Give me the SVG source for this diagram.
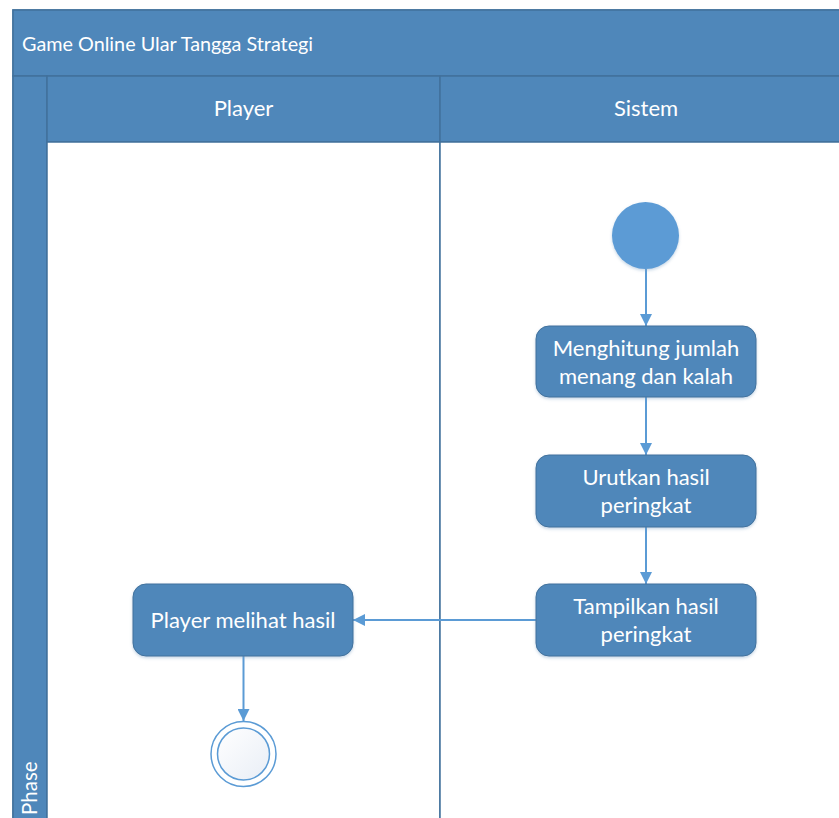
<svg xmlns="http://www.w3.org/2000/svg" width="839" height="818" viewBox="0 0 839 818">
  <style>
    .band { fill: #4f87ba; stroke: #41719c; stroke-width: 1.5; }
    .lane { fill: #ffffff; stroke: #41719c; stroke-width: 1.5; }
    .act { fill: #4f87ba; stroke: #41719c; stroke-width: 1; filter: url(#shadow); }
    .hdr { font-family: Lato, "Liberation Sans", sans-serif; fill: #ffffff; }
    .lbl { font-family: Lato, "Liberation Sans", sans-serif; font-size: 22px; fill: #ffffff; text-anchor: middle; }
    .flow { stroke: #5b9bd5; stroke-width: 2; fill: none; marker-end: url(#arrow); }
  </style>
  <defs>
    <marker id="arrow" viewBox="0 0 12 12" refX="12" refY="6" markerWidth="12" markerHeight="12" markerUnits="userSpaceOnUse" orient="auto">
      <path d="M0,0 L12,6 L0,12 Z" fill="#5b9bd5"/>
    </marker>
    <filter id="shadow" x="-10%" y="-10%" width="120%" height="130%">
      <feDropShadow dx="0" dy="1.5" stdDeviation="1.5" flood-color="#7fa3c8" flood-opacity="0.45"/>
    </filter>
    <linearGradient id="endFill" x1="0" y1="0" x2="1" y2="1">
      <stop offset="0" stop-color="#ffffff"/>
      <stop offset="1" stop-color="#e9eef6"/>
    </linearGradient>
  </defs>

  <!-- pool frame -->
  <g id="pool">
    <rect class="lane" x="13" y="10" width="840" height="820"/>
    <rect class="band" x="13" y="10" width="840" height="66"/>
    <text class="hdr" x="22" y="51" font-size="19.8">Game Online Ular Tangga Strategi</text>
    <rect class="band" x="13" y="76" width="34" height="760"/>
    <text class="hdr" font-size="20.5" transform="translate(37,818) rotate(-90)" x="3" y="0">Phase</text>
  </g>

  <!-- swimlanes -->
  <g id="lane-player">
    <rect class="band" x="47" y="76" width="393" height="66"/>
    <rect class="lane" x="47" y="142" width="393" height="690"/>
    <text class="lbl" x="243.5" y="116">Player</text>
  </g>
  <g id="lane-sistem">
    <rect class="band" x="440" y="76" width="413" height="66"/>
    <rect class="lane" x="440" y="142" width="413" height="690"/>
    <text class="lbl" x="646" y="116">Sistem</text>
  </g>

  <!-- connectors -->
  <g id="connectors">
    <line class="flow" x1="646" y1="269" x2="646" y2="326"/>
    <line class="flow" x1="646" y1="397" x2="646" y2="455"/>
    <line class="flow" x1="646" y1="527" x2="646" y2="584"/>
    <line class="flow" x1="536" y1="620" x2="353" y2="620"/>
    <line class="flow" x1="243.5" y1="656" x2="243.5" y2="721"/>
  </g>

  <!-- nodes -->
  <g id="start">
    <circle cx="645.5" cy="235.5" r="33.5" fill="#5b9bd5" filter="url(#shadow)"/>
  </g>
  <g id="hitung">
    <rect class="act" x="536" y="326" width="220" height="71" rx="13"/>
    <text class="lbl"><tspan x="646" y="356">Menghitung jumlah</tspan><tspan x="646" y="384">menang dan kalah</tspan></text>
  </g>
  <g id="urutkan">
    <rect class="act" x="536" y="455" width="220" height="72" rx="13"/>
    <text class="lbl"><tspan x="646" y="485">Urutkan hasil</tspan><tspan x="646" y="513">peringkat</tspan></text>
  </g>
  <g id="tampilkan">
    <rect class="act" x="536" y="584" width="220" height="72" rx="13"/>
    <text class="lbl"><tspan x="646" y="614">Tampilkan hasil</tspan><tspan x="646" y="642">peringkat</tspan></text>
  </g>
  <g id="melihat">
    <rect class="act" x="133" y="584" width="220" height="72" rx="13"/>
    <text class="lbl" x="243" y="628">Player melihat hasil</text>
  </g>
  <g id="end">
    <circle cx="243.5" cy="754" r="32.5" fill="#ffffff" stroke="#5b9bd5" stroke-width="1.5"/>
    <circle cx="243.5" cy="754" r="26" fill="url(#endFill)" stroke="#5b9bd5" stroke-width="1.5"/>
  </g>
</svg>
